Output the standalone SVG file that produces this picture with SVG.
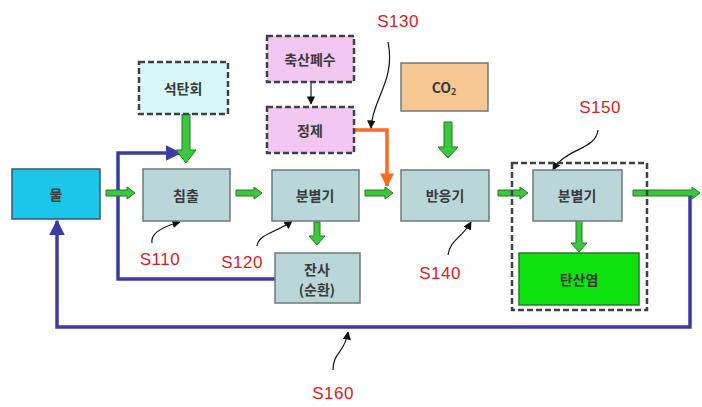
<svg xmlns="http://www.w3.org/2000/svg" width="702" height="407" viewBox="0 0 702 407">
<style>
.box{fill:#b9d7d8;stroke:#6f7a7a;stroke-width:1.5}
.dash{stroke:#404048;stroke-width:2.5;stroke-dasharray:6,3}
.t{font-family:"Noto Sans CJK KR","Noto Sans",sans-serif;font-size:14px;font-weight:bold;fill:#3a3a3a;text-anchor:middle;dominant-baseline:central}
.lab{font-family:"Liberation Sans",Arial,sans-serif;font-size:17px;fill:#d02424;text-anchor:middle;dominant-baseline:central;letter-spacing:0.5px}
.g{fill:#3cc83c;stroke:#1f7a1f;stroke-width:1}
.blue{fill:none;stroke:#3b3ba6;stroke-width:3.5}
.ann{fill:none;stroke:#111;stroke-width:1.2}
</style>
<defs>
<marker id="ah" viewBox="0 0 10 10" refX="9" refY="5" markerWidth="7" markerHeight="7" orient="auto"><path d="M0,0 L10,5 L0,10 z" fill="#111"/></marker>
<marker id="bh" viewBox="0 0 10 10" refX="9" refY="5" markerWidth="4.5" markerHeight="4.5" orient="auto"><path d="M0,0 L10,5 L0,10 z" fill="#3b3ba6"/></marker>
<marker id="oh" viewBox="0 0 10 10" refX="9" refY="5" markerWidth="4" markerHeight="4" orient="auto"><path d="M0,0 L10,5 L0,10 z" fill="#ff6a1c"/></marker>
</defs>
<rect width="702" height="407" fill="#ffffff"/>

<g id="connectors">
<path class="blue" d="M275 279 H118 V153 H180" marker-end="url(#bh)"/>
<path class="blue" d="M690 193 V327 H57 V221" marker-end="url(#bh)"/>
<path d="M354 130 H387 V186" fill="none" stroke="#ff6a1c" stroke-width="3.5" marker-end="url(#oh)"/>
<path d="M311 82 V104" stroke="#222" stroke-width="1.2" fill="none" marker-end="url(#ah)"/>
<polygon class="g" points="106,190 127,190 127,187 135,193 127,199 127,196 106,196"/>
<polygon class="g" points="236,190 254,190 254,187 262,193 254,199 254,196 236,196"/>
<polygon class="g" points="365,190 385,190 385,187 393,193 385,199 385,196 365,196"/>
<polygon class="g" points="498,190 520,190 520,187 528,193 520,199 520,196 498,196"/>
<polygon class="g" points="633,190 692,190 692,187 700,193 692,199 692,196 633,196"/>
<polygon class="g" points="182,114 190,114 190,150 196,150 186,163 176,150 182,150"/>
<polygon class="g" points="444,122 452,122 452,147 458,147 448,158 438,147 444,147"/>
<polygon class="g" points="314,222 320,222 320,236 325,236 317,245 309,236 314,236"/>
<polygon class="g" points="576,221 582,221 582,243 587,243 579,252 571,243 576,243"/>
<path class="ann" d="M152 243 C150 232 165 226 180 222" marker-end="url(#ah)"/>
<path class="ann" d="M257 246 C258 234 278 232 292 221" marker-end="url(#ah)"/>
<path class="ann" d="M388 42 C396 80 372 100 371 128" marker-end="url(#ah)"/>
<path class="ann" d="M448 255 C450 240 462 238 471 222" marker-end="url(#ah)"/>
<path class="ann" d="M598 130 C596 150 565 148 553 170" marker-end="url(#ah)"/>
<path class="ann" d="M333 370 C333 352 345 353 348 332" marker-end="url(#ah)"/>
</g>

<g id="water"><rect x="12" y="169" width="88" height="50" fill="#1cc6ea" stroke="#3b5a6a" stroke-width="1.5"/><text class="t" x="56" y="194">물</text></g>
<g id="coalash"><rect x="139" y="62" width="89" height="52" fill="#d8f8f8" class="dash"/><text class="t" x="183" y="88">석탄회</text></g>
<g id="leach"><rect class="box" x="143" y="169" width="87" height="52"/><text class="t" x="186" y="195">침출</text></g>
<g id="sep1"><rect class="box" x="272" y="170" width="87" height="51"/><text class="t" x="315" y="195">분별기</text></g>
<g id="residue"><rect class="box" x="275" y="253" width="85" height="50"/><text class="t" x="317" y="269">잔사</text><text class="t" x="317" y="289">(순환)</text></g>
<g id="livestock"><rect x="267" y="36" width="87" height="46" fill="#f2c8f2" class="dash"/><text class="t" x="310" y="59">축산폐수</text></g>
<g id="purify"><rect x="267" y="107" width="87" height="46" fill="#f2c8f2" class="dash"/><text class="t" x="310" y="130">정제</text></g>
<g id="co2"><rect x="401" y="63" width="87" height="48" fill="#f8c892" stroke="#6f7a7a" stroke-width="1.5"/><text class="t" x="444" y="87">CO<tspan font-size="9" dy="4">2</tspan></text></g>
<g id="reactor"><rect class="box" x="401" y="170" width="88" height="51"/><text class="t" x="445" y="195">반응기</text></g>
<g id="s150group"><rect x="512" y="163" width="135" height="147" fill="none" class="dash"/></g>
<g id="sep2"><rect class="box" x="533" y="170" width="89" height="51"/><text class="t" x="577" y="195">분별기</text></g>
<g id="carbonate"><rect x="519" y="253" width="120" height="52" fill="#0ee20e" stroke="#2a7a2a" stroke-width="1.5"/><text class="t" x="579" y="279">탄산염</text></g>

<g id="labels">
<text class="lab" x="160" y="259">S110</text>
<text class="lab" x="242" y="262">S120</text>
<text class="lab" x="398" y="21">S130</text>
<text class="lab" x="440" y="273">S140</text>
<text class="lab" x="600" y="107">S150</text>
<text class="lab" x="333" y="393">S160</text>
</g>
</svg>
